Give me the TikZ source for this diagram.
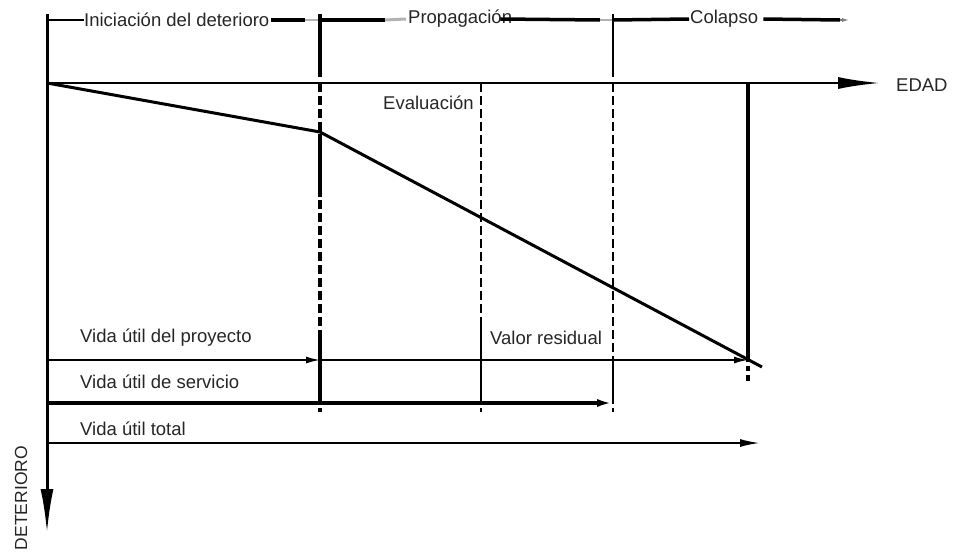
\documentclass[tikz,border=0pt]{standalone}
\usepackage{fontspec}
\setmainfont{Liberation Sans}
\usetikzlibrary{arrows.meta}
\begin{document}
\begin{tikzpicture}[x=1pt,y=-1pt,
  lbl/.style={font=\fontsize{18.5}{21}\selectfont, inner sep=0pt, anchor=west, text=black!85},
  thinarrow/.style={line width=1.6pt, -{Latex[length=14pt,width=7pt]}},
  dashv/.style={dash pattern=on 9pt off 4pt},
  ]
\useasboundingbox (0,0) rectangle (955,552);
% key coordinates
\coordinate (Ltop) at (47,14);
\coordinate (Lbot) at (47,533);
\coordinate (O) at (47,83);
\coordinate (Aend) at (880,83);
\coordinate (K) at (320,132);
\coordinate (E) at (762,367);
% axes
\draw[line width=3pt, -{Latex[length=44pt,width=13pt]}] (Ltop) -- (Lbot);
\draw[line width=2.4pt, -{Latex[length=42pt,width=12pt]}] (O) -- (Aend);
\node[lbl] (edad) at (896,85) {EDAD};
\node[lbl, font=\fontsize{17.5}{20}\selectfont, rotate=90, anchor=center] (det) at (21,498) {DETERIORO};
% top timeline
\node[lbl] (ini) at (84,20) {Iniciación del deterioro};
\node[lbl] (prop) at (408,19) {Propagación};
\node[lbl] (col) at (690,19) {Colapso};
\coordinate (t0) at (47,20);
\coordinate (t1) at (320,20);
\coordinate (t2) at (613,20);
\coordinate (t3) at (850,20);
\draw[line width=2pt] (t0) -- (ini.west);
\draw[line width=3.5pt] ([xshift=1pt]ini.east) -- (305,20);
\draw[line width=1.2pt, gray!60] (305,20) -- (t1);
\draw[line width=3.5pt] (t1) -- (385,20);
\draw[line width=3pt, gray!60] (385,20) -- ([xshift=-2pt]prop.west);
\draw[line width=3.5pt] ([xshift=-12pt]prop.east) -- (600,20);
\draw[line width=1.2pt, gray!60] (600,20) -- (t2);
\draw[line width=3.5pt] (t2) -- ([xshift=-1pt]col.west);
\draw[line width=3.5pt] ([xshift=5pt]col.east) -- (840,20);
\draw[line width=1.5pt, gray, -{Latex[length=8pt,width=4pt]}] (840,20) -- (t3);
% top ticks
\draw[line width=3.5pt] (320,14) -- (320,77);
\draw[line width=2pt] (613,14) -- (613,77);
% vertical guides below axis
\draw[line width=3.5pt, dashv] (320,83) -- (320,412);
\draw[line width=3.5pt] (320,134) -- (320,197);
\draw[line width=3.5pt] (320,330) -- (320,403);
\draw[line width=1.8pt, dashv] (481,83) -- (481,412);
\draw[line width=1.8pt] (481,320) -- (481,403);
\draw[line width=1.8pt, dashv] (613,83) -- (613,412);
\draw[line width=1.8pt] (613,357) -- (613,403);
\draw[line width=4pt] (748,83) -- (748,350);
\draw[line width=4pt, dash pattern=on 12pt off 4pt on 5pt off 4pt] (748,350) -- (748,381);
% deterioration curve
\draw[line width=3pt] (O) -- (K) -- (E);
\node[lbl] (eva) at (383,103) {Evaluación};
% life arrows
\coordinate (a0) at (47,360);
\coordinate (a1) at (320,360);
\coordinate (a2) at (748,360);
\draw[thinarrow] (a0) -- (a1);
\draw[thinarrow] (a1) -- (a2);
\node[lbl] (vp) at (80,338) {Vida útil del proyecto};
\node[lbl] (vr) at (490,338) {Valor residual};
\coordinate (b0) at (47,403);
\coordinate (b1) at (613,403);
\draw[line width=3.5pt, -{Latex[length=16pt,width=8pt]}] (b0) -- (b1);
\node[lbl] (vs) at (80,382) {Vida útil de servicio};
\coordinate (c0) at (47,443);
\coordinate (c1) at (760,443);
\draw[line width=2pt, -{Latex[length=20pt,width=8pt]}] (c0) -- (c1);
\node[lbl] (vt) at (80,429) {Vida útil total};
\end{tikzpicture}
\end{document}
